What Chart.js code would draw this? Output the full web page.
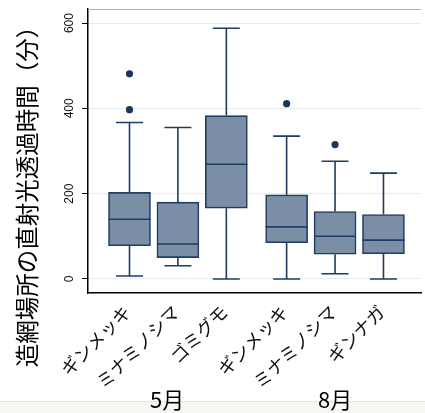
<!DOCTYPE html>
<html><head><meta charset="utf-8">
<script src="https://cdn.jsdelivr.net/npm/chart.js@4/dist/chart.umd.min.js"></script>
<style>html,body{margin:0;padding:0;background:#fff}#wrap{width:425px;height:413px;position:relative}</style>
</head><body><div id="wrap"><canvas id="c" width="425" height="413"></canvas></div>
<script>
const categories = ['ギンメッキ','ミナミノシマ','ゴミグモ','ギンメッキ','ミナミノシマ','ギンナガ'];
const positions = [1, 2, 3, 4.245, 5.245, 6.245];
const groups = ['5月', '8月'];
const groupPositions = [1.776, 5.245];
const q1 = [78, 50, 166, 85, 58, 59];
const median = [140, 82, 269, 122, 100, 91];
const q3 = [203, 180, 383, 197, 158, 151];
const whiskerLow = [7, 31, 0, 0, 12, 0];
const whiskerHigh = [367, 355, 588, 335, 276, 248];
const outliers = [[481, 397], [], [], [411], [315], []];
const yTicks = [0, 200, 400, 600];
const yTitle = '造網場所の直射光透過時間（分）';

const JP = '"Noto Sans CJK JP", "Liberation Sans", sans-serif';
const LAT = '"Liberation Sans", Arial, sans-serif';
const LINE = '#1f3d62';

const outlierPts = [];
outliers.forEach((arr, i) => arr.forEach(v => outlierPts.push({x: positions[i], y: v})));

const boxPlugin = {
  id: 'boxextras',
  beforeDraw(chart) {
    const ctx = chart.ctx;
    ctx.save();
    ctx.fillStyle = '#f7f8f3';
    ctx.fillRect(0, 402, chart.width, chart.height - 402);
    ctx.strokeStyle = '#e3e6df';
    ctx.lineWidth = 1;
    ctx.beginPath(); ctx.moveTo(0, 401.5); ctx.lineTo(chart.width, 401.5); ctx.stroke();
    ctx.restore();
  },
  beforeDatasetsDraw(chart) {
    const ctx = chart.ctx, xs = chart.scales.x, ys = chart.scales.y;
    ctx.save();
    ctx.strokeStyle = LINE;
    ctx.lineWidth = 1.6;
    const cap = 13.5;
    positions.forEach((p, i) => {
      const x = xs.getPixelForValue(p);
      const yHi = ys.getPixelForValue(whiskerHigh[i]);
      const yQ3 = ys.getPixelForValue(q3[i]);
      const yLo = ys.getPixelForValue(whiskerLow[i]);
      const yQ1 = ys.getPixelForValue(q1[i]);
      ctx.beginPath();
      ctx.moveTo(x, yHi); ctx.lineTo(x, yQ3);
      ctx.moveTo(x, yQ1); ctx.lineTo(x, yLo);
      ctx.moveTo(x - cap, yHi); ctx.lineTo(x + cap, yHi);
      ctx.moveTo(x - cap, yLo); ctx.lineTo(x + cap, yLo);
      ctx.stroke();
    });
    ctx.restore();
  },
  afterDatasetsDraw(chart) {
    const ctx = chart.ctx, xs = chart.scales.x, ys = chart.scales.y;
    const meta = chart.getDatasetMeta(0);
    ctx.save();
    ctx.strokeStyle = LINE;
    ctx.lineWidth = 1.6;
    positions.forEach((p, i) => {
      const bar = meta.data[i];
      const half = bar.width / 2;
      const x = xs.getPixelForValue(p);
      const y = ys.getPixelForValue(median[i]);
      ctx.beginPath(); ctx.moveTo(x - half, y); ctx.lineTo(x + half, y); ctx.stroke();
    });
    ctx.restore();
  },
  afterDraw(chart) {
    const ctx = chart.ctx, xs = chart.scales.x, ys = chart.scales.y, ca = chart.chartArea;
    ctx.save();
    ctx.strokeStyle = '#b0b0b0';
    ctx.lineWidth = 1;
    ctx.beginPath(); ctx.moveTo(ca.left, ca.top + 0.5); ctx.lineTo(ca.right, ca.top + 0.5); ctx.stroke();
    ctx.fillStyle = '#111';
    ctx.font = '12px ' + LAT;
    ctx.textAlign = 'center';
    ctx.textBaseline = 'middle';
    yTicks.forEach(v => {
      const y = ys.getPixelForValue(v);
      ctx.save(); ctx.translate(70, y); ctx.rotate(-Math.PI / 2);
      ctx.fillText(String(v), 0, 0);
      ctx.restore();
    });
    ctx.font = '23.5px ' + JP;
    ctx.fillStyle = '#000';
    ctx.save(); ctx.translate(27, 191); ctx.rotate(-Math.PI / 2);
    ctx.fillText(yTitle, 0, 0);
    ctx.restore();
    ctx.font = '22px ' + JP;
    groups.forEach((g, i) => {
      ctx.fillText(g, xs.getPixelForValue(groupPositions[i]), 400);
    });
    ctx.restore();
  }
};

new Chart(document.getElementById('c'), {
  data: {
    datasets: [
      {
        type: 'bar',
        data: positions.map((p, i) => ({x: p, y: [q1[i], q3[i]]})),
        backgroundColor: '#7a8fa6',
        borderColor: LINE,
        borderWidth: 1.6,
        borderSkipped: false,
        barThickness: 42
      },
      {
        type: 'scatter',
        data: outlierPts,
        pointRadius: 3.6,
        pointBackgroundColor: '#1a365d',
        pointBorderWidth: 0
      }
    ]
  },
  options: {
    responsive: false,
    animation: false,
    devicePixelRatio: 1,
    layout: {padding: {top: 9, left: 0, right: -6, bottom: 0}},
    plugins: {legend: {display: false}, tooltip: {enabled: false}},
    scales: {
      x: {
        type: 'linear',
        offset: false,
        min: 0.143,
        max: 7.02,
        afterBuildTicks: s => { s.ticks = positions.map(v => ({value: v})); },
        afterFit: s => { s.height = 120; s.paddingLeft = 0; s.paddingRight = 0; },
        grid: {display: false},
        border: {display: true, color: '#000', width: 1.5},
        ticks: {
          autoSkip: false,
          minRotation: 45,
          maxRotation: 45,
          padding: 0,
          labelOffset: -2,
          color: '#111',
          font: {size: 18, family: JP},
          callback: (v, i) => categories[i]
        }
      },
      y: {
        type: 'linear',
        min: -33,
        max: 633,
        afterBuildTicks: s => { s.ticks = yTicks.map(v => ({value: v})); },
        afterFit: s => { s.width = 88; s.paddingTop = 0; s.paddingBottom = 0; },
        grid: {color: '#e4edf0', lineWidth: 1, tickColor: '#000', tickLength: 6, drawTicks: true},
        border: {display: true, color: '#000', width: 1.5},
        ticks: {display: false}
      }
    }
  },
  plugins: [boxPlugin]
});
</script></body></html>
